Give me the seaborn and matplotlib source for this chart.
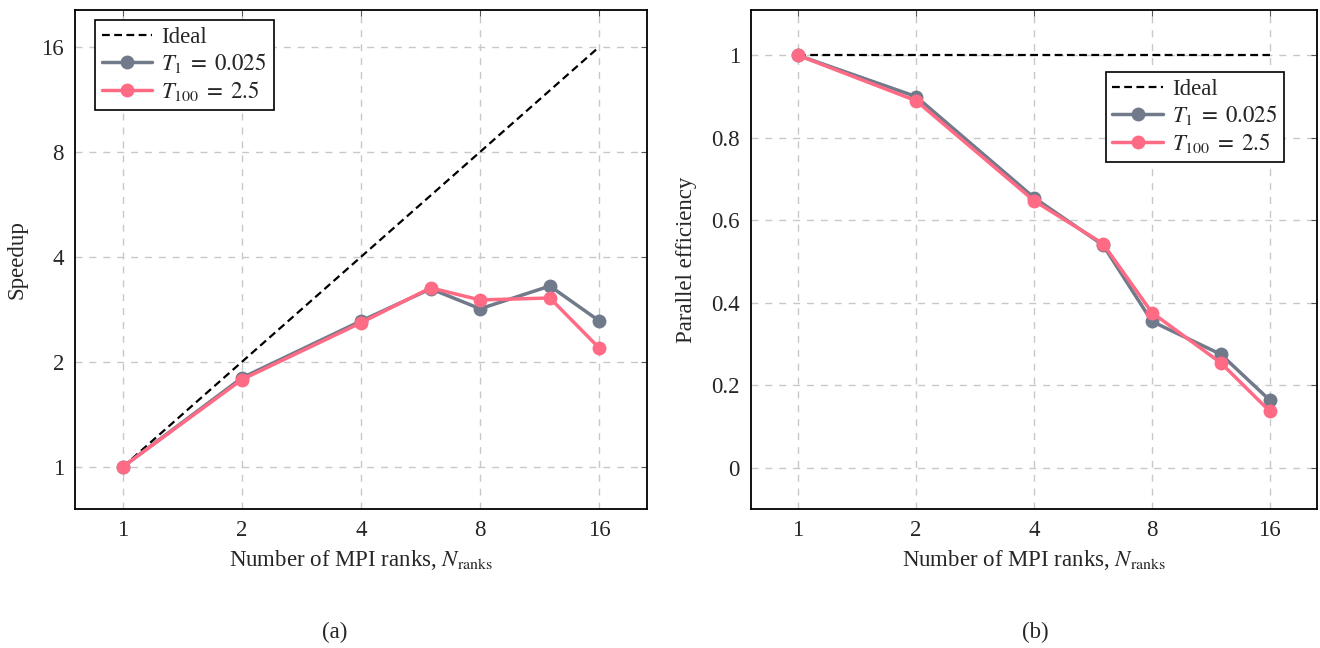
import pandas as pd
import matplotlib
matplotlib.use("Agg")
import matplotlib.pyplot as plt
import seaborn as sns

# data
ranks = [1, 2, 4, 6, 8, 12, 16]
speedup_t1 = [1.0, 1.80, 2.62, 3.24, 2.84, 3.30, 2.62]
speedup_t100 = [1.0, 1.78, 2.59, 3.26, 3.01, 3.05, 2.19]
ideal_ranks = [1, 2, 4, 8, 16]
ideal_speedup = [1, 2, 4, 8, 16]
ideal_eff = [1, 1, 1, 1, 1]
tick_vals = [1, 2, 4, 8, 16]

eff_t1 = [s / n for s, n in zip(speedup_t1, ranks)]
eff_t100 = [s / n for s, n in zip(speedup_t100, ranks)]

df = pd.DataFrame({
    "N": ranks * 2,
    "speedup": speedup_t1 + speedup_t100,
    "eff": eff_t1 + eff_t100,
    "run": ["$T_1\\;=\\;0.025$"] * len(ranks) + ["$T_{100}\\;=\\;2.5$"] * len(ranks),
})

sns.set_style("white")
plt.rcParams["font.family"] = ["Liberation Serif", "DejaVu Serif"]
plt.rcParams["mathtext.fontset"] = "stix"
plt.rcParams["font.size"] = 16

palette = {"$T_1\\;=\\;0.025$": "#707a8a", "$T_{100}\\;=\\;2.5$": "#ff6b85"}

fig = plt.figure(figsize=(13.2, 6.48), dpi=100)
ax1 = fig.add_axes([75 / 1320, 139 / 648, 572 / 1320, 499 / 648])
ax2 = fig.add_axes([751 / 1320, 139 / 648, 566 / 1320, 499 / 648])


def style_axis(ax):
    ax.set_xscale("log", base=2)
    ax.set_xlim(2 ** -0.4, 2 ** 4.4)
    ax.set_xticks(tick_vals)
    ax.set_xticklabels([str(v) for v in tick_vals])
    ax.minorticks_off()
    ax.grid(True, linestyle=(0, (5, 5)), color="#c8c8c8", linewidth=1)
    ax.tick_params(direction="in", top=True, right=True, length=4,
                   color="#555555", labelsize=16.5, pad=8)
    for s in ax.spines.values():
        s.set_linewidth(1.3)
        s.set_color("black")
    ax.set_xlabel("Number of MPI ranks, $N_{\\mathrm{ranks}}$", fontsize=16.5, labelpad=5)


# (a) speedup
ax1.plot(ideal_ranks, ideal_speedup, color="black", linestyle=(0, (3.5, 2)), linewidth=1.6, label="Ideal")
sns.lineplot(data=df, x="N", y="speedup", hue="run", palette=palette, marker="o",
             markersize=10, markeredgewidth=0, linewidth=2.5, ax=ax1)
style_axis(ax1)
ax1.set_yscale("log", base=2)
ax1.set_ylim(2 ** -0.4, 2 ** 4.35)
ax1.set_yticks(tick_vals)
ax1.set_yticklabels([str(v) for v in tick_vals])
ax1.minorticks_off()
ax1.set_ylabel("Speedup", fontsize=16.5, labelpad=10)
ax1.legend(loc="upper left", bbox_to_anchor=(0.035, 0.98), borderaxespad=0,
           fancybox=False, edgecolor="black", framealpha=1, fontsize=16.5,
           handlelength=2.2, handletextpad=0.4, borderpad=0.3, labelspacing=0.15)
ax1.get_legend().get_frame().set_linewidth(1.2)

# (b) parallel efficiency
ax2.plot(ideal_ranks, ideal_eff, color="black", linestyle=(0, (3.5, 2)), linewidth=1.6, label="Ideal")
sns.lineplot(data=df, x="N", y="eff", hue="run", palette=palette, marker="o",
             markersize=10, markeredgewidth=0, linewidth=2.5, ax=ax2)
style_axis(ax2)
ax2.set_ylim(-0.1, 1.11)
ax2.set_yticks([0, 0.2, 0.4, 0.6, 0.8, 1])
ax2.set_yticklabels(["0", "0.2", "0.4", "0.6", "0.8", "1"])
ax2.set_ylabel("Parallel efficiency", fontsize=16.5, labelpad=10)
ax2.legend(loc="upper right", bbox_to_anchor=(0.942, 0.876), borderaxespad=0,
           fancybox=False, edgecolor="black", framealpha=1, fontsize=16.5,
           handlelength=2.2, handletextpad=0.4, borderpad=0.3, labelspacing=0.15)
ax2.get_legend().get_frame().set_linewidth(1.2)

fig.text(335 / 1320, 1 - 632 / 648, "(a)", ha="center", va="center", fontsize=16.5)
fig.text(1035 / 1320, 1 - 632 / 648, "(b)", ha="center", va="center", fontsize=16.5)

fig.savefig("out.png", dpi=100)
